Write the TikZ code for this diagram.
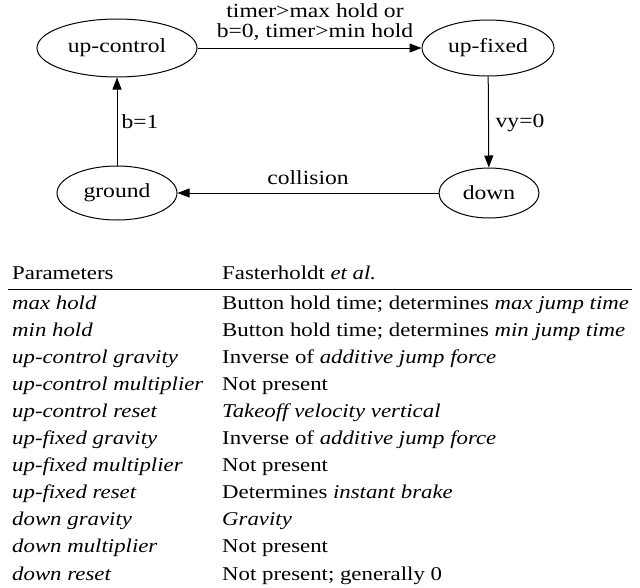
\documentclass[tikz,border=0pt]{standalone}
\usepackage{fontspec}
\setmainfont{Liberation Serif}
\usetikzlibrary{shapes.geometric,arrows.meta}
\newcommand{\widd}[1]{\scalebox{1.18}[1]{#1}}
\newcommand{\widt}[1]{\scalebox{1.17}[1]{#1}}
\begin{document}
\begin{tikzpicture}[x=1pt,y=-1pt,
  st/.style={ellipse,draw,line width=1pt,inner sep=0pt,font=\fontsize{20}{23}\selectfont},
  ar/.style={draw,line width=1pt,-{Triangle[length=12pt,width=9pt]}},
  lb/.style={font=\fontsize{20}{23}\selectfont,inner sep=1pt},
  tx/.style={anchor=base west,font=\fontsize{19.5}{22}\selectfont,inner sep=0pt}]
\useasboundingbox (0,0) rectangle (640,587);
\node[st,minimum width=160,minimum height=58] (uc) at (117,48) {\widd{up-control}};
\node[st,minimum width=132,minimum height=56] (uf) at (488,48) {\widd{up-fixed}};
\node[st,minimum width=120,minimum height=54] (gr) at (117,193) {\widd{ground}};
\node[st,minimum width=100,minimum height=50] (dn) at (489,193) {\widd{down}};
\draw[ar] (uc) -- (uf);
\draw[ar] (uf) -- (dn);
\draw[ar] (dn) -- (gr);
\draw[ar] (gr) -- (uc);
\node[lb] (l1) at (315,11) {\widd{timer>max hold or}};
\node[lb] (l2) at (315,32) {\widd{b=0, timer>min hold}};
\node[lb] (l3) at (520,123) {\widd{vy=0}};
\node[lb] (l4) at (308,178) {\widd{collision}};
\node[lb] (l5) at (140,122) {\widd{b=1}};
\node[tx] (h1) at (12,279) {\widt{Parameters}};
\node[tx] (h2) at (222,279) {\widt{Fasterholdt \textit{et al.}}};
\draw[line width=0.8pt] (8,289) -- (632,289);
\foreach \i/\a/\b in {0/max hold/{Button hold time; determines \textit{max jump time}},
 1/min hold/{Button hold time; determines \textit{min jump time}},
 2/up-control gravity/{Inverse of \textit{additive jump force}},
 3/up-control multiplier/{Not present},
 4/up-control reset/{\textit{Takeoff velocity vertical}},
 5/up-fixed gravity/{Inverse of \textit{additive jump force}},
 6/up-fixed multiplier/{Not present},
 7/up-fixed reset/{Determines \textit{instant brake}},
 8/down gravity/{\textit{Gravity}},
 9/down multiplier/{Not present},
 10/down reset/{Not present; generally 0}}{
 \node[tx] (a\i) at (12,309+27.1*\i) {\widt{\textit{\a}}};
 \node[tx] (b\i) at (222,309+27.1*\i) {\widt{\b}};
}
\end{tikzpicture}
\end{document}
